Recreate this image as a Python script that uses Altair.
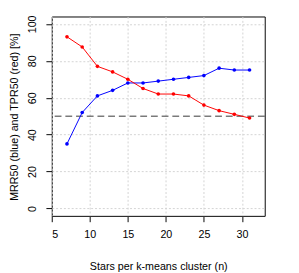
import altair as alt
import pandas as pd

n_stars = [7, 9, 11, 13, 15, 17, 19, 21, 23, 25, 27, 29, 31]
mrr50 = [35, 52, 61, 64, 68, 68, 69, 70, 71, 72, 76, 75, 75]
tpr50 = [93, 87.5, 77, 74, 70, 65, 62, 62, 61, 56, 53, 51, 49]
x_ticks = [5, 10, 15, 20, 25, 30]
y_ticks = [0, 20, 40, 60, 80, 100]
threshold = [50]

rows = []
for n, m, t in zip(n_stars, mrr50, tpr50):
    rows.append({"n": n, "value": m, "series": "MRR50"})
    rows.append({"n": n, "value": t, "series": "TPR50"})
df = pd.DataFrame(rows)
df_h = pd.DataFrame({"y": threshold})

font = "Liberation Sans"
fs = 11

xscale = alt.Scale(domain=[5, 33], nice=False, zero=False)
yscale = alt.Scale(domain=[-4, 104], nice=False, zero=False)

xaxis = alt.Axis(
    values=x_ticks, title="Stars per k-means cluster (n)", domain=False,
    tickSize=6, tickColor="black", labelColor="black", labelFontSize=fs,
    labelFont=font, titleFont=font, titleFontSize=fs, titleFontWeight="normal",
    titleColor="black", labelPadding=7, grid=True, gridColor="#d3d3d3",
    gridDash=[2, 2], titleY=52, titleBaseline="middle",
)
yaxis = alt.Axis(
    values=y_ticks, title="MRR50 (blue) and TPR50 (red) [%]", domain=False,
    tickSize=6, tickColor="black", labelColor="black", labelFontSize=fs,
    labelFont=font, titleFont=font, titleFontSize=fs, titleFontWeight="normal",
    titleColor="black", labelAngle=-90, labelAlign="center", labelBaseline="bottom",
    labelPadding=9, grid=True, gridColor="#d3d3d3", gridDash=[2, 2],
    titleX=-38, titleY=103, titleBaseline="middle", titleAlign="center", titleAngle=-90,
)

color = alt.Color("series:N", scale=alt.Scale(domain=["MRR50", "TPR50"], range=["#0000ff", "#ff0000"]), legend=None)

base = alt.Chart(df).encode(
    x=alt.X("n:Q", scale=xscale, axis=xaxis),
    y=alt.Y("value:Q", scale=yscale, axis=yaxis),
    color=color,
)
lines = base.mark_line(strokeWidth=1, clip=True)
pts = base.mark_circle(size=14, opacity=1)

hline = alt.Chart(df_h).mark_rule(color="#333333", strokeDash=[7, 4], strokeWidth=1).encode(
    y=alt.Y("y:Q", scale=yscale)
)

chart = alt.layer(hline, lines, pts).properties(
    width=219, height=205,
    padding={"left": 45, "top": 5, "right": 27, "bottom": 55},
    autosize=alt.AutoSizeParams(type="none"),
    background="white",
).configure_view(stroke="black", strokeWidth=1).configure_axis(titleFontWeight="normal")

chart.save("out.html", embed_options={"renderer": "svg", "actions": False})
